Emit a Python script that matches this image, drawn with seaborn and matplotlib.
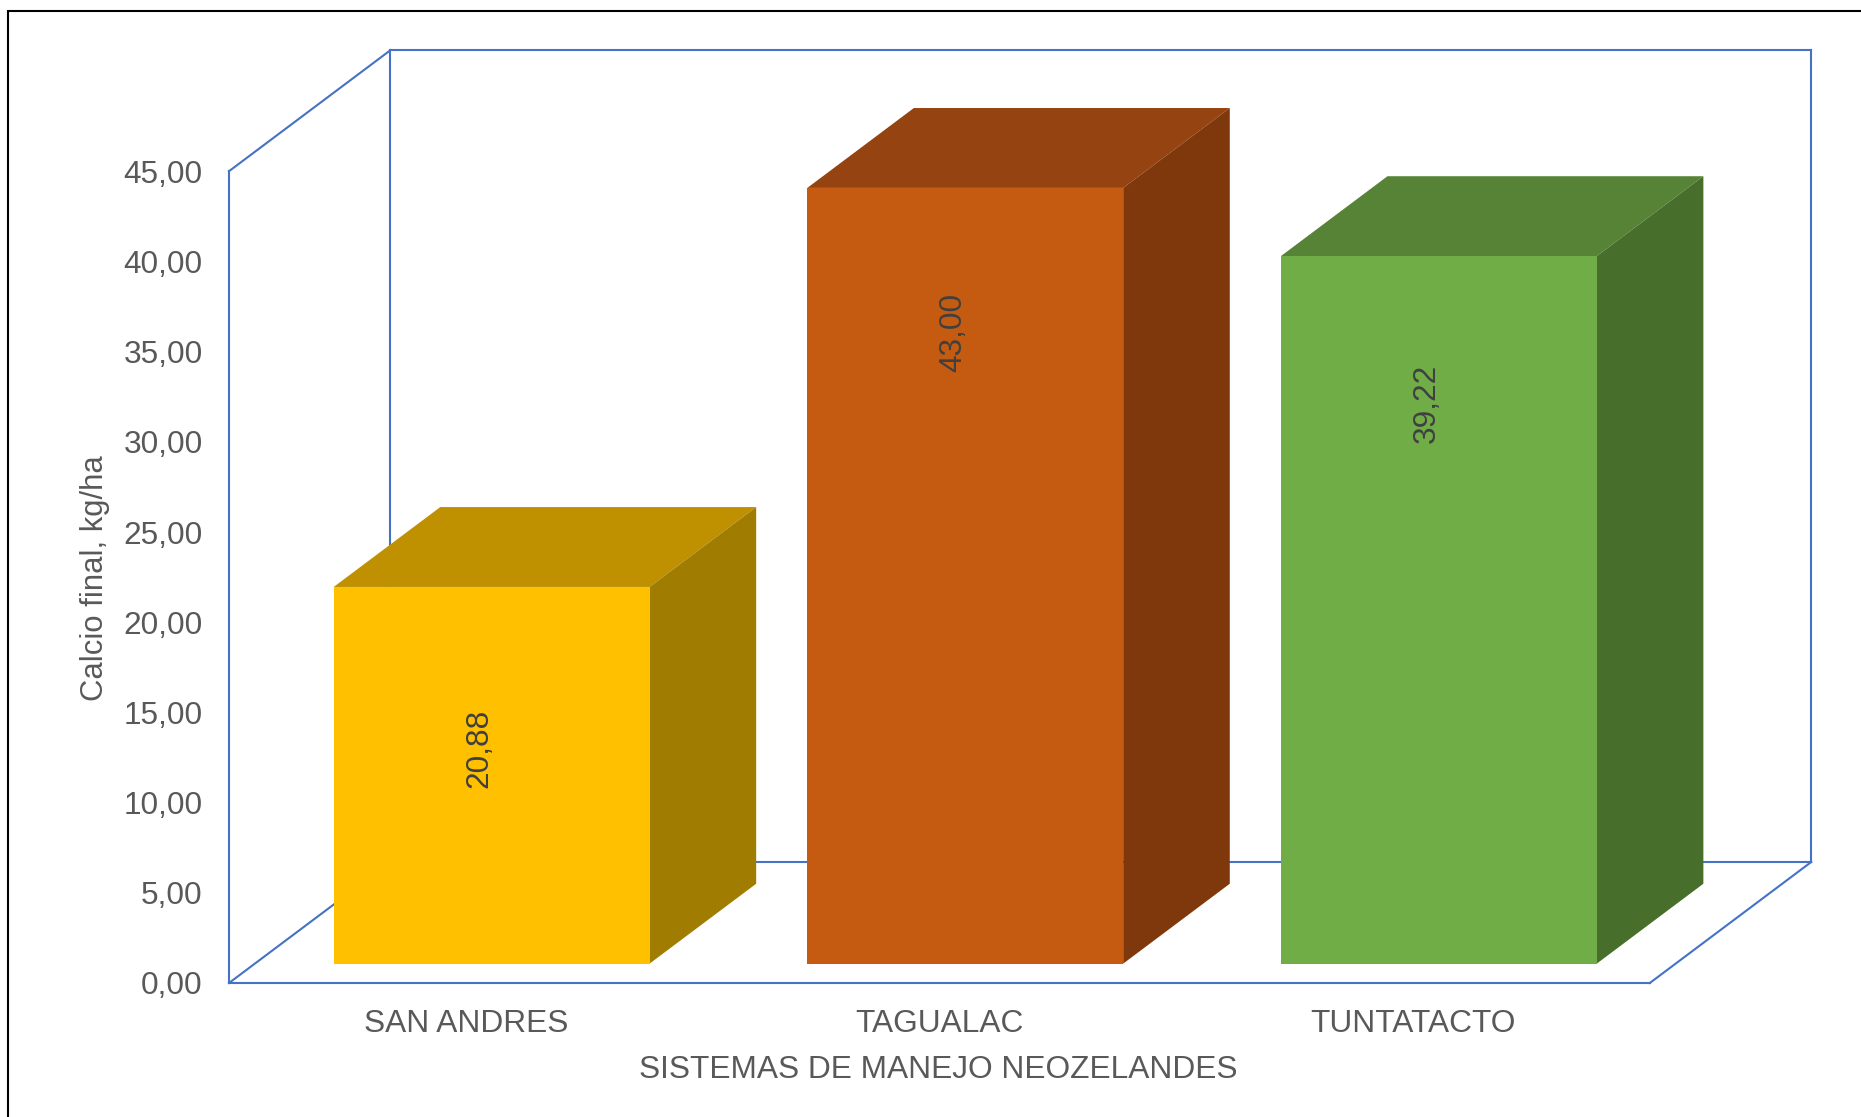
import matplotlib
matplotlib.use("Agg")
import matplotlib.pyplot as plt
import seaborn as sns
import pandas as pd
from matplotlib.patches import Polygon, Rectangle
from matplotlib.transforms import Affine2D

# ---------------- data ----------------
categories = ["SAN ANDRES", "TAGUALAC", "TUNTATACTO"]
values = [20.88, 43.00, 39.22]
value_labels = ["20,88", "43,00", "39,22"]
front_colors = ["#FFC000", "#C55A11", "#70AD47"]
top_colors = ["#BF9000", "#954310", "#578337"]
side_colors = ["#A07C00", "#7E380B", "#486E2C"]
y_ticks = [0, 5, 10, 15, 20, 25, 30, 35, 40, 45]
y_tick_labels = ["0,00", "5,00", "10,00", "15,00", "20,00", "25,00",
                 "30,00", "35,00", "40,00", "45,00"]
x_title = "SISTEMAS DE MANEJO NEOZELANDES"
y_title = "Calcio final, kg/ha"

# ---------------- style ----------------
sns.set_theme(style="white")
plt.rcParams['font.family'] = ['Liberation Sans', 'DejaVu Sans']

W, H = 1861, 1117
fig = plt.figure(figsize=(W / 100, H / 100), dpi=100)

# 3D projection parameters (data units)
DX, DY = 0.341, 6.71          # depth of the box
D0, D1 = 0.16, 0.82           # bar depth (front, back) as fraction of box depth
BW = 0.667                    # bar width
YMAX = 45
blue = "#4472C4"
txt = "#595959"
FS = 22.8

# axes placement in pixels
px_left, px_y0 = 229, 983
px_slot, px_unit = 473.6, 18.04
x_lo, x_hi = -0.5, 2.5 + DX
y_lo, y_hi = 0, YMAX + DY
left = px_left / W
width = (x_hi - x_lo) * px_slot / W
bottom = 1 - px_y0 / H
height = (y_hi - y_lo) * px_unit / H
ax = fig.add_axes([left, bottom, width, height])
ax.set_xlim(x_lo, x_hi)
ax.set_ylim(y_lo, y_hi)
for s in ax.spines.values():
    s.set_visible(False)

# ---------------- walls (outline) ----------------
lw = 1.5
fx0, fx1 = -0.5, 2.5
wall_lines = [
    ([fx0, fx0], [0, YMAX]),                              # front-left vertical
    ([fx0, fx0 + DX], [YMAX, YMAX + DY]),                 # left wall top
    ([fx0 + DX, fx1 + DX], [YMAX + DY, YMAX + DY]),       # back top
    ([fx1 + DX, fx1 + DX], [DY, YMAX + DY]),              # back right vertical
    ([fx0 + DX, fx0 + DX], [DY, YMAX + DY]),              # back left vertical
    ([fx0 + DX, fx1 + DX], [DY, DY]),                     # back floor
    ([fx0, fx1], [0, 0]),                                 # front floor
    ([fx0, fx0 + DX], [0, DY]),                           # left floor diag
    ([fx1, fx1 + DX], [0, DY]),                           # right floor diag
]
for xs, ys in wall_lines:
    ax.plot(xs, ys, color=blue, lw=lw, zorder=1, clip_on=False,
            solid_capstyle="projecting")

# ---------------- bars ----------------
df = pd.DataFrame({"cat": categories, "val": values})
sns.barplot(data=df, x="cat", y="val", hue="cat", palette=front_colors,
            width=BW, saturation=1, linewidth=0, legend=False, ax=ax,
            zorder=3)
ax.set_xlim(x_lo, x_hi)
ax.set_ylim(y_lo, y_hi)

shift = Affine2D().translate(D0 * DX, D0 * DY) + ax.transData
ddx, ddy = (D1 - D0) * DX, (D1 - D0) * DY
bars = [p for p in ax.patches if isinstance(p, Rectangle)][:len(values)]
for i, p in enumerate(bars):
    p.set_transform(shift)
    p.set_zorder(3)
    x0 = p.get_x() + D0 * DX
    w = p.get_width()
    h = p.get_height()
    y0 = D0 * DY
    top = Polygon([(x0, y0 + h), (x0 + w, y0 + h),
                   (x0 + w + ddx, y0 + h + ddy), (x0 + ddx, y0 + h + ddy)],
                  closed=True, fc=top_colors[i], ec="none", zorder=2)
    side = Polygon([(x0 + w, y0), (x0 + w + ddx, y0 + ddy),
                    (x0 + w + ddx, y0 + h + ddy), (x0 + w, y0 + h)],
                   closed=True, fc=side_colors[i], ec="none", zorder=2)
    ax.add_patch(top)
    ax.add_patch(side)
    ax.text(x0 + w / 2 - 0.025, 1.042 * h - 8.76, value_labels[i],
            rotation=90, ha="center", va="center", color="#404040",
            fontsize=FS)

# ---------------- ticks & labels ----------------
ax.set_yticks(y_ticks, y_tick_labels)
ax.set_xticks(range(len(categories)), categories)
ax.tick_params(axis="y", length=0, pad=19, labelsize=FS, labelcolor=txt)
ax.tick_params(axis="x", length=0, pad=19, labelsize=FS, labelcolor=txt)
ax.set_xlabel("")
ax.set_ylabel("")

fig.text(938 / W, 1 - 1070 / H, x_title, ha="center", va="center",
         fontsize=FS, color=txt)
fig.text(95 / W, 1 - 578 / H, y_title, ha="center", va="center",
         rotation=90, fontsize=FS - 0.5, color=txt)

# outer border (left/top visible)
fig.add_artist(Rectangle((8 / W, -0.1), 1.2, (1 - 11 / H) + 0.1,
                         transform=fig.transFigure, fill=False,
                         ec="black", lw=1.5))

fig.savefig("out.png", dpi=100)
